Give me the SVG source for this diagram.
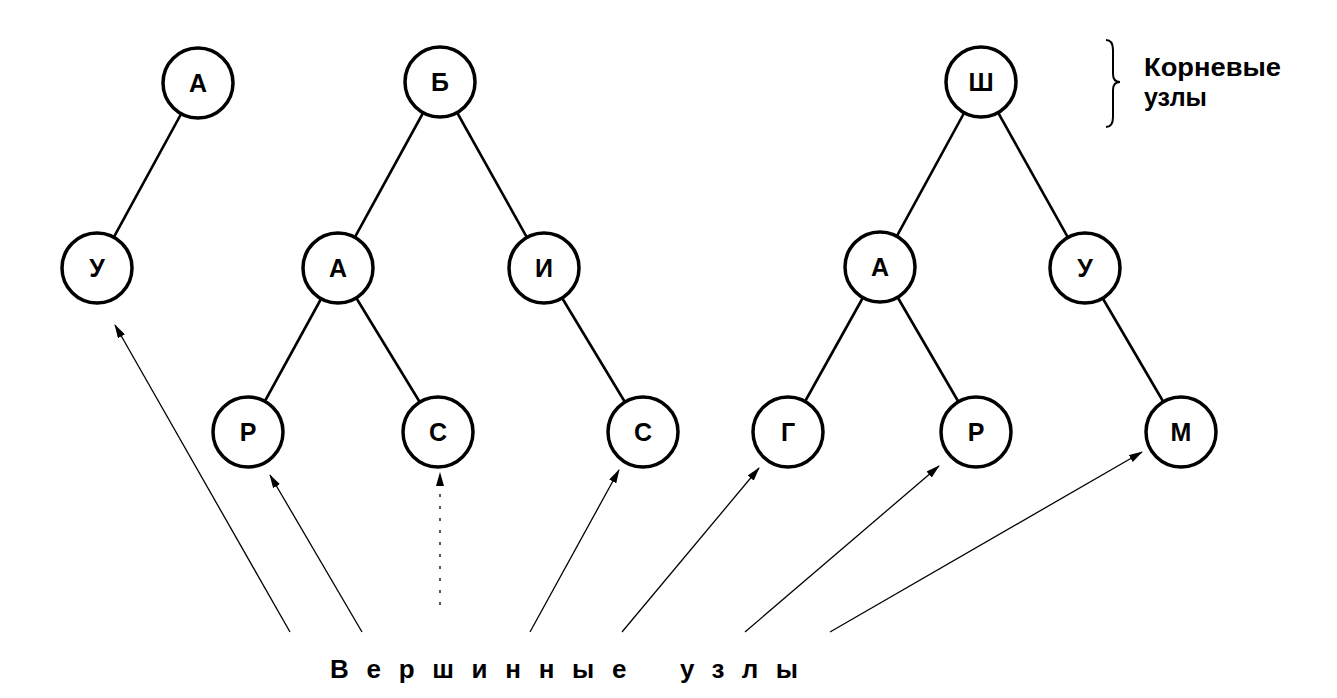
<svg xmlns="http://www.w3.org/2000/svg" width="1337" height="698" viewBox="0 0 1337 698">
<style>
.node circle{fill:#fff;stroke:#000;stroke-width:3.5}
.node text{font-family:"Liberation Sans",Arial,sans-serif;font-weight:bold;font-size:25px;text-anchor:middle;fill:#000}
.edge{stroke:#000;stroke-width:2.6;fill:none}
.arr{stroke:#000;stroke-width:1.3;fill:none;marker-end:url(#ah)}
.lbl{font-family:"Liberation Sans",Arial,sans-serif;font-weight:bold;fill:#000}
</style>
<defs>
<marker id="ah" markerUnits="userSpaceOnUse" markerWidth="14" markerHeight="8" refX="13" refY="4" orient="auto">
<path d="M0,0 L14,4 L0,8 z" fill="#000"/>
</marker>
</defs>
<rect width="1337" height="698" fill="#fff"/>
<g id="connectors">
<line class="edge" x1="198" y1="83" x2="97" y2="268"/>
<line class="edge" x1="440" y1="82" x2="338" y2="268"/>
<line class="edge" x1="440" y1="82" x2="544" y2="268"/>
<line class="edge" x1="338" y1="268" x2="248" y2="432"/>
<line class="edge" x1="338" y1="268" x2="438" y2="432"/>
<line class="edge" x1="544" y1="268" x2="643" y2="432"/>
<line class="edge" x1="981" y1="82" x2="880" y2="267"/>
<line class="edge" x1="981" y1="82" x2="1085" y2="268"/>
<line class="edge" x1="880" y1="267" x2="788" y2="432"/>
<line class="edge" x1="880" y1="267" x2="976" y2="432"/>
<line class="edge" x1="1085" y1="268" x2="1181" y2="432"/>
<line class="arr" x1="290" y1="632" x2="115" y2="325"/>
<line class="arr" x1="362" y1="632" x2="270" y2="475"/>
<line class="arr" x1="440" y1="605" x2="440" y2="473" stroke-dasharray="3 9"/>
<line class="arr" x1="530" y1="632" x2="619" y2="470"/>
<line class="arr" x1="622" y1="632" x2="759" y2="468"/>
<line class="arr" x1="745" y1="632" x2="939" y2="466"/>
<line class="arr" x1="830" y1="632" x2="1142" y2="452"/>
</g>
<g id="n-A1" class="node"><circle cx="198" cy="83" r="35"/><text x="198" y="92">А</text></g>
<g id="n-U1" class="node"><circle cx="97" cy="268" r="35"/><text x="97" y="277">У</text></g>
<g id="n-B" class="node"><circle cx="440" cy="82" r="35"/><text x="440" y="91">Б</text></g>
<g id="n-A2" class="node"><circle cx="338" cy="268" r="35"/><text x="338" y="277">А</text></g>
<g id="n-I" class="node"><circle cx="544" cy="268" r="35"/><text x="544" y="277">И</text></g>
<g id="n-R1" class="node"><circle cx="248" cy="432" r="35"/><text x="248" y="441">Р</text></g>
<g id="n-S1" class="node"><circle cx="438" cy="432" r="35"/><text x="438" y="441">С</text></g>
<g id="n-S2" class="node"><circle cx="643" cy="432" r="35"/><text x="643" y="441">С</text></g>
<g id="n-Sh" class="node"><circle cx="981" cy="82" r="35"/><text x="981" y="91">Ш</text></g>
<g id="n-A3" class="node"><circle cx="880" cy="267" r="35"/><text x="880" y="276">А</text></g>
<g id="n-U2" class="node"><circle cx="1085" cy="268" r="35"/><text x="1085" y="277">У</text></g>
<g id="n-G" class="node"><circle cx="788" cy="432" r="35"/><text x="788" y="441">Г</text></g>
<g id="n-R2" class="node"><circle cx="976" cy="432" r="35"/><text x="976" y="441">Р</text></g>
<g id="n-M" class="node"><circle cx="1181" cy="432" r="35"/><text x="1181" y="441">М</text></g>
<g id="brace">
<path d="M1106,40 Q1113,40 1113,50 L1113,74 Q1113,82 1120,82 Q1113,82 1113,90 L1113,117 Q1113,127 1106,127" fill="none" stroke="#000" stroke-width="2"/>
</g>
<g id="root-label">
<text class="lbl" x="1144" y="76" font-size="26" textLength="137" lengthAdjust="spacingAndGlyphs">Корневые</text>
<text class="lbl" x="1144" y="106" font-size="26" textLength="63" lengthAdjust="spacingAndGlyphs">узлы</text>
</g>
<g id="leaf-label">
<text class="lbl" x="330" y="678" font-size="26" letter-spacing="17.7">Вершинные</text>
<text class="lbl" x="680" y="678" font-size="26" letter-spacing="17.5">узлы</text>
</g>
</svg>
